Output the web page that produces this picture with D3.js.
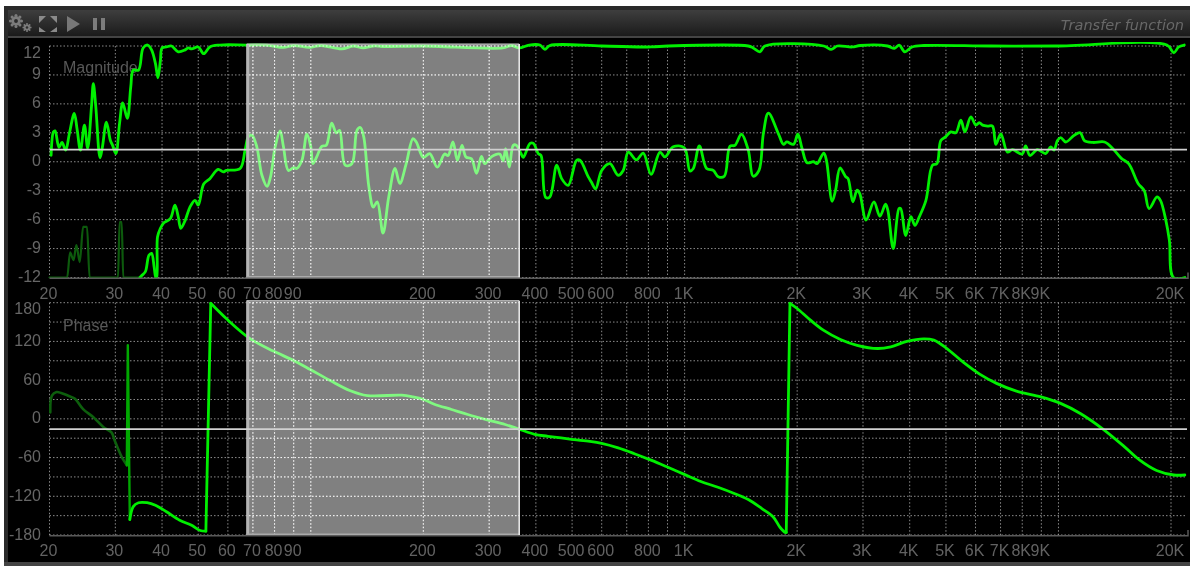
<!DOCTYPE html>
<html><head><meta charset="utf-8">
<style>html,body{margin:0;padding:0;background:#fff}svg{display:block;filter:blur(0.6px)}</style>
<script src="https://cdn.jsdelivr.net/npm/d3@7"></script></head>
<body><div id="c"></div>
<script>
const freqGrid=[20,30,40,50,60,70,80,90,100,200,300,400,500,600,700,800,900,1000,2000,3000,4000,5000,6000,7000,8000,9000,10000,20000];
const freqLabels=[[20,"20"],[30,"30"],[40,"40"],[50,"50"],[60,"60"],[70,"70"],[80,"80"],[90,"90"],[200,"200"],[300,"300"],[400,"400"],[500,"500"],[600,"600"],[800,"800"],[1000,"1K"],[2000,"2K"],[3000,"3K"],[4000,"4K"],[5000,"5K"],[6000,"6K"],[7000,"7K"],[8000,"8K"],[9000,"9K"],[20000,"20K"]];
const magTicks=[12,9,6,3,0,-3,-6,-9,-12];
const phaseGrid=[180,150,120,90,60,30,0,-30,-60,-90,-120,-150,-180];
const phaseLabels=[180,120,60,0,-60,-120,-180];
const selection=[68,361];
const magRef=1.26, phaseRef=-16;
// upper trace: [Hz, dB]
const upperTrace=[[20.2,.67],[20.5,3.1],[20.7,3.2],[21.2,1.5],[21.6,2],[22.1,1.2],[22.6,2.9],[23.3,5],[23.7,3.4],[24.2,1.2],[24.8,3.8],[25.3,1.4],[25.9,5.7],[26.2,8.1],[26.6,5.7],[27.3,.4],[27.7,1.5],[28.4,4.1],[29.1,2.2],[29.5,1.7],[30.1,.85],[30.8,4],[31.4,6.1],[32.3,4.5],[33,7.8],[33.5,9.5],[34.6,9.5],[35.6,11.8],[36.6,12.1],[37.5,11.6],[38.4,10.2],[39,8.7],[39.6,10.5],[40,11.8],[41.1,11.9],[42.4,12],[44.2,11.4],[46.1,11.6],[47,11.8],[48,11.7],[50,11.9],[51.7,11.2],[53.7,11.9],[57.1,12.1],[67.5,12.1],[76.4,12.1],[84.5,11.85],[90,12.05],[99.2,11.85],[106.5,12.05],[121,11.7],[130,12],[138,11.8],[147,12],[155.5,11.95],[200,12],[326,11.8],[344,12.05],[361,11.8],[384,12.1],[410,12.1],[423,11.65],[436,12.05],[600,12],[813,11.9],[902,12],[1480,12],[1525,11.8],[1590,11.4],[1640,12],[2356,12],[2466,11.65],[2560,12],[2804,11.9],[2950,12.05],[3490,12],[3640,11.75],[3750,12.1],[3880,11.4],[4060,11.9],[4370,12.05],[6600,12],[9850,12],[19500,12.1],[20340,11.3],[20970,11.9],[21700,12.1]];
// main magnitude trace: [Hz, dB]
const magTrace=[[34.9,-12],[35.3,-11.8],[36.1,-11.4],[36.9,-9.7],[37.5,-9.5],[38.1,-10.9],[38.5,-12],[38.7,-12],[38.9,-7.8],[39.6,-6.9],[40.4,-6.35],[42.1,-5.9],[43.3,-4.5],[44.2,-5.7],[44.9,-6.9],[46.1,-6.1],[47.5,-4.7],[49,-4],[50,-4.5],[51.7,-2.3],[53.7,-1.75],[56.5,-.8],[58.3,-1.05],[59.5,-.9],[64.7,-.7],[66.7,1.2],[68.1,2.6],[69.6,2.75],[71.7,1.55],[74,-1.4],[76.4,-2.55],[78,-1.6],[80.3,1.55],[82.8,3.2],[84.5,1.55],[87.1,-.9],[90,-.6],[91.7,-.7],[94.7,.15],[97.6,2.85],[100,1.55],[101.3,-.2],[103.7,.5],[107,1.6],[110,1.7],[113.7,4],[117,3],[119.4,3.25],[123.6,-.35],[128.8,-.2],[132.9,3.25],[135.7,3.55],[138.5,2.6],[143,-2.6],[147,-4.7],[150.6,-4.15],[156,-7.4],[161.6,-3.65],[168,-.7],[173,-2.25],[180,-.2],[187.6,2.4],[191.5,2.05],[200,.45],[208,.85],[218,-.55],[228,.8],[233,.65],[240,2.05],[246.6,.15],[253.8,1.7],[260,.5],[269,.3],[277.6,-1.2],[286,.55],[292,-.2],[304,.5],[320,.8],[327,.1],[332,1.35],[339.7,-.55],[348,1.7],[355,1.7],[365,.85],[370,.45],[386,1.9],[394,1.9],[406,.85],[413,.65],[425,-3.7],[436,-3.65],[454.8,-.35],[468.8,-1.75],[488,-2.45],[514,.15],[525,.15],[552,-1.55],[563,-2.1],[578,-2.8],[600,-.9],[631,-.2],[664,-1.4],[685,-.9],[707,1],[743,.2],[775,.9],[813,-1.3],[859,1],[886,.5],[932,1.55],[998,1.45],[1033,-.95],[1055,-.7],[1095,1.65],[1145,-.7],[1193,-.9],[1230,-1.55],[1277,-1.5],[1322,1.6],[1363,1.7],[1419,2.85],[1480,1.2],[1525,-1.5],[1581,-.9],[1624,2.9],[1675,5.05],[1782,2.9],[1838,1.8],[1876,2.05],[1955,1.8],[2008,2.85],[2062,1.35],[2125,-.1],[2213,0],[2260,-.2],[2356,.9],[2395,.15],[2481,-4.1],[2534,-2.95],[2604,-.65],[2697,-1.55],[2737,-1.75],[2819,-4.15],[2893,-2.95],[2941,-3.3],[3058,-6.05],[3209,-4.15],[3329,-5.65],[3447,-4.4],[3497,-5.05],[3615,-9],[3745,-4.85],[3784,-4.85],[3905,-7.65],[4030,-5.7],[4130,-6.6],[4244,-5.7],[4420,-4],[4603,-.35],[4730,-.2],[4846,2.2],[4996,2.6],[5152,3.1],[5313,3],[5482,4.3],[5619,3.1],[5830,4.65],[6013,3.8],[6138,4.05],[6266,3.8],[6465,3.7],[6660,3.7],[6800,1.8],[7010,2.9],[7303,1],[7530,1.25],[8000,.8],[8170,1.65],[8390,.65],[8780,1.25],[9240,.85],[9530,1.55],[9730,1.2],[9936,2.2],[10140,2.5],[10460,2.05],[11020,2.75],[11440,3],[11730,2.2],[12360,2],[13280,2.05],[13980,1.35],[14730,.35],[15410,-.2],[16330,-2.25],[16960,-3],[17470,-4.85],[18350,-3.65],[18740,-4],[19370,-6.05],[19800,-8.15],[20300,-12],[21780,-12]];
// low-coherence part: [Hz, dB]
const dimTrace=[[20,-12],[22.3,-12],[22.7,-9.4],[23.2,-10.2],[23.6,-8.65],[24.1,-10.4],[24.6,-6.75],[25.2,-6.75],[25.6,-12],[29.5,-12],[30.5,-12],[30.8,-6.25],[31.2,-6.25],[31.5,-12],[35.3,-12]];
// phase: [Hz, degrees]
const phaseDim=[[20.1,10],[20.3,36],[20.9,41.5],[21.5,40],[22.6,35],[23.4,31],[24.6,15],[26.2,2.6],[27.9,-13],[29.3,-21],[29.9,-34],[31.2,-59],[32.2,-72]];
const phaseSpike=[[32.2,-72],[32.4,114],[32.8,-156]];
const phaseWrapA=[[32.8,-156],[33.5,-136],[34.6,-130],[36.5,-130],[38.4,-134],[41.1,-144],[44.6,-157],[48,-165],[50.6,-173],[52.4,-174]];
const phaseWrapB=[[54,179],[59.5,155],[68.9,124],[79.4,105],[90,90.4],[100,76],[112.7,59.4],[127.1,44],[141.6,36],[175,36.7],[187.6,34],[200,30],[214,22.7],[238,14.5],[263,6.7],[298,-2],[331,-8.8],[361,-16],[397,-24],[431,-27],[488,-31],[552,-34.6],[600,-38],[664,-45],[734,-54],[813,-64],[902,-75],[998,-86],[1105,-97],[1228,-106],[1363,-116],[1480,-125],[1609,-139],[1726,-152],[1799,-168],[1858,-176],[1870,-176]];
const phaseWrapC=[[1913,179],[2000,171],[2170,153],[2356,137],[2610,123],[2893,114],[3280,109],[3560,111.6],[3930,120],[4360,124],[4640,122],[5030,109],[5560,88],[6170,69],[6830,55],[7720,43],[8980,34],[10130,24],[11470,8],[13100,-15],[15000,-43],[16500,-64],[18300,-80],[20340,-87],[21780,-87]];

const W=1190,H=566;
const svg=d3.select("#c").append("svg").attr("width",W).attr("height",H).attr("viewBox",[0,0,W,H]);
const defs=svg.append("defs");
const g=defs.append("linearGradient").attr("id","bar").attr("x1",0).attr("x2",0).attr("y1",0).attr("y2",1);
g.append("stop").attr("offset",0).attr("stop-color","#3e3e3e");
g.append("stop").attr("offset",1).attr("stop-color","#1b1b1b");
svg.append("rect").attr("width",W).attr("height",H).attr("fill","#fff");
svg.append("rect").attr("x",4).attr("y",6).attr("width",W-4).attr("height",H-6).attr("fill","#2a2a2a");
svg.append("rect").attr("x",8).attr("y",10).attr("width",W-8).attr("height",26).attr("fill","url(#bar)");
svg.append("rect").attr("x",8).attr("y",36).attr("width",W-8).attr("height",2).attr("fill","#444");
svg.append("rect").attr("x",8).attr("y",38).attr("width",W-8).attr("height",524).attr("fill","#000");
svg.append("rect").attr("x",4).attr("y",562).attr("width",W-4).attr("height",4).attr("fill","#444");

// toolbar icons
const ic=svg.append("g").attr("fill","#7c7c7c");
function gear(cx,cy,r){const n=ic.append("g");
  for(let i=0;i<8;i++){const a=i*Math.PI/4;n.append("circle").attr("cx",cx+r*Math.cos(a)).attr("cy",cy+r*Math.sin(a)).attr("r",r*.28);}
  n.append("circle").attr("cx",cx).attr("cy",cy).attr("r",r*.85);
  n.append("circle").attr("cx",cx).attr("cy",cy).attr("r",r*.35).attr("fill","#2c2c2c");}
gear(16,21,5.5);gear(27,27.5,3.6);
ic.append("path").attr("d","M39 16h7l-7 7zM57 16h-7l7 7zM39 32h7l-7-5zM57 32h-7l7-5z").attr("fill","#8a8a8a");
ic.append("path").attr("d","M67 16l13 8-13 8z").attr("fill","#777");
ic.append("rect").attr("x",93).attr("y",18).attr("width",4).attr("height",12);
ic.append("rect").attr("x",101).attr("y",18).attr("width",4).attr("height",12);
svg.append("text").attr("x",1184).attr("y",30).attr("text-anchor","end").attr("font-family","DejaVu Sans").attr("font-style","italic").attr("font-size",14.5).attr("fill","#686868").text("Transfer function");

const x=d3.scaleLog().domain([20,20000]).range([49.5,1171]);
const yM=d3.scaleLinear().domain([-12,12]).range([277.5,46]);
const yP=d3.scaleLinear().domain([-180,180]).range([535,302.7]);
const xR=1187;
const FONT="Liberation Sans";
const smooth=d3.curveCatmullRom.alpha(0.5);

function panel(name,y,gridVals,labels,labelY,tracesFn,refVal,nameY){
  const top=y.range()[1],bot=y.range()[0];
  const p=svg.append("g");
  function grid(sel,col,op){
    sel.append("g").selectAll("line").data(gridVals).join("line").attr("x1",49.5).attr("x2",xR).attr("y1",d=>y(d)).attr("y2",d=>y(d)).attr("stroke",col).attr("stroke-opacity",op).attr("stroke-dasharray","1.5 2");
    sel.append("g").selectAll("line").data(freqGrid).join("line").attr("x1",d=>x(d)).attr("x2",d=>x(d)).attr("y1",top).attr("y2",bot).attr("stroke",col).attr("stroke-opacity",op).attr("stroke-dasharray","1.5 2");
  }
  grid(p,"#9a9a9a",.9);
  p.append("text").attr("x",63).attr("y",nameY).attr("font-family",FONT).attr("font-size",16).attr("fill","#585858").text(name);
  const cidT="clipT"+name;
  defs.append("clipPath").attr("id",cidT).append("rect").attr("x",45).attr("y",top-4).attr("width",xR-45).attr("height",bot-top+5);
  tracesFn(p.append("g").attr("clip-path",`url(#${cidT})`),y);
  const sx0=x(selection[0])-1.5,sx1=x(selection[1]);
  const cid="clip"+name;
  defs.append("clipPath").attr("id",cid).append("rect").attr("x",sx0).attr("y",top-2).attr("width",sx1-sx0).attr("height",bot-top+2);
  p.append("rect").attr("x",sx0).attr("y",top-2).attr("width",sx1-sx0).attr("height",bot-top+2).attr("fill","#fff").attr("fill-opacity",.5);
  grid(p.append("g").attr("clip-path",`url(#${cid})`),"#fff",.85);
  // selection borders
  p.append("line").attr("x1",sx0+1).attr("x2",sx0+1).attr("y1",top-2).attr("y2",bot).attr("stroke","#b4b4b4").attr("stroke-width",3);
  p.append("line").attr("x1",sx0).attr("x2",sx1).attr("y1",bot-.5).attr("y2",bot-.5).attr("stroke","#aaa").attr("stroke-width",2);
  p.append("line").attr("x1",sx0).attr("x2",sx1).attr("y1",top-2).attr("y2",top-2).attr("stroke","#ccc").attr("stroke-width",1);
  p.append("line").attr("x1",sx1).attr("x2",sx1).attr("y1",top-2).attr("y2",bot).attr("stroke","#eee").attr("stroke-width",1.5);
  // reference line
  p.append("line").attr("x1",49.5).attr("x2",xR).attr("y1",y(refVal)).attr("y2",y(refVal)).attr("stroke","#d0d0d0").attr("stroke-width",1.6);
  // frame
  p.append("path").attr("d",`M49.5 ${bot+.8}H${xR+1}V${bot-5}`).attr("fill","none").attr("stroke","#5a5a5a").attr("stroke-width",1.5);
  // labels
  p.append("g").selectAll("text").data(labels).join("text").attr("x",41).attr("y",d=>labelY(d)+5.5).attr("text-anchor","end").attr("font-family",FONT).attr("font-size",16).attr("fill","#666").text(d=>d);
  p.append("g").selectAll("text").data(freqLabels).join("text").attr("x",d=>x(d[0])-1).attr("y",bot+21).attr("text-anchor","middle").attr("font-family",FONT).attr("font-size",16).attr("fill","#626262").text(d=>d[1]);
}
function draw(p,data,y,col,w,curve){
  const d=d3.line().x(v=>x(v[0])).y(v=>y(v[1])).curve(curve)(data);
  p.append("path").attr("d",d).attr("fill","none").attr("stroke",col).attr("stroke-width",w).attr("stroke-linejoin","round").attr("stroke-linecap","round");
}
panel("Magnitude",yM,magTicks,magTicks,d=>d===12?yM(d)+6:yM(d)-1,(p,y)=>{
  draw(p,dimTrace,y,"#0d5a0d",2.2,d3.curveMonotoneX);
  draw(p,upperTrace,y,"#00f000",2.8,smooth);
  draw(p,magTrace,y,"#00f000",2.8,smooth);
},magRef,73);
panel("Phase",yP,phaseGrid,phaseLabels,d=>d===180?yP(d)+6:yP(d)-1,(p,y)=>{
  draw(p,phaseDim,y,"#0d5f0d",2.6,smooth);
  draw(p,phaseSpike,y,"#00a800",2.4,d3.curveLinear);
  draw(p,phaseWrapA,y,"#00f000",2.8,smooth);
  draw(p,[phaseWrapA[phaseWrapA.length-1],phaseWrapB[0]],y,"#00f000",2.8,d3.curveLinear);
  draw(p,phaseWrapB,y,"#00f000",2.8,smooth);
  draw(p,[phaseWrapB[phaseWrapB.length-1],phaseWrapC[0]],y,"#00f000",2.8,d3.curveLinear);
  draw(p,phaseWrapC,y,"#00f000",2.8,smooth);
},phaseRef,331);
</script></body></html>
